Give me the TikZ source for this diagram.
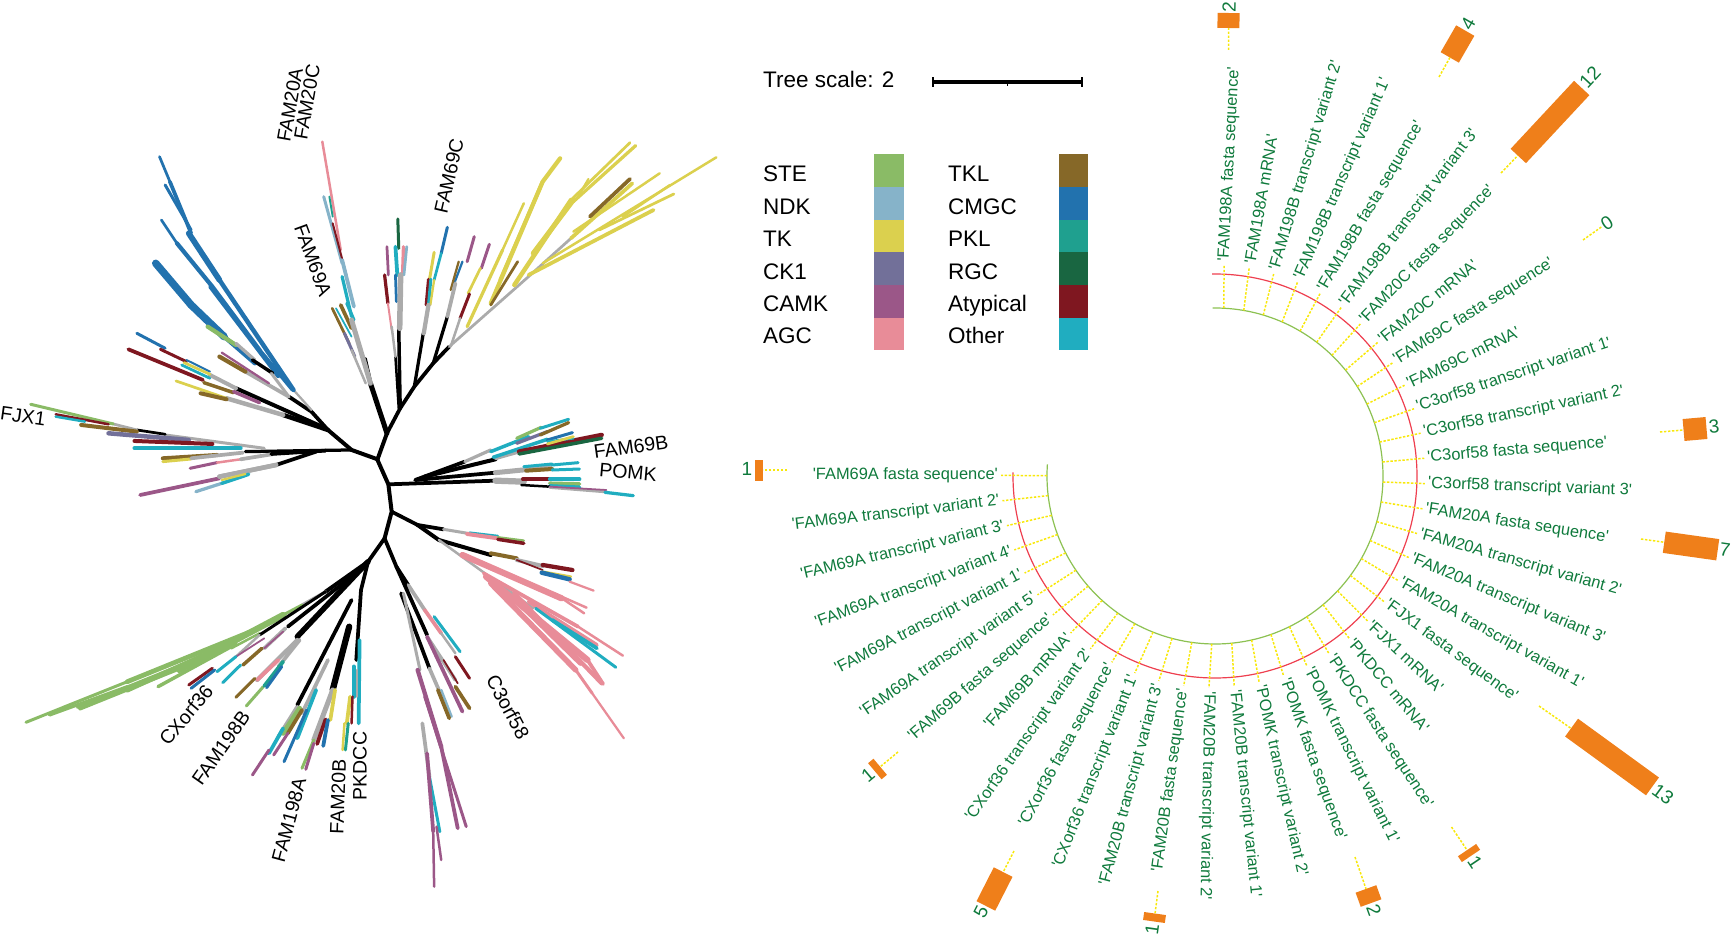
\documentclass[tikz,border=0pt]{standalone}
\usepackage{fontspec}
\setmainfont{Liberation Sans}[Ligatures=TeXOff]
\definecolor{ste}{HTML}{8ABB66}
\definecolor{ndk}{HTML}{86B3C9}
\definecolor{tk}{HTML}{DBD04E}
\definecolor{ck}{HTML}{727099}
\definecolor{camk}{HTML}{9B5788}
\definecolor{agc}{HTML}{E88C98}
\definecolor{tkl}{HTML}{866828}
\definecolor{cmgc}{HTML}{2272AE}
\definecolor{pkl}{HTML}{1FA08F}
\definecolor{rgc}{HTML}{196641}
\definecolor{atyp}{HTML}{7F1720}
\definecolor{oth}{HTML}{20ADC0}
\definecolor{gry}{HTML}{ABABAB}
\definecolor{genegreen}{HTML}{0F7A3C}
\definecolor{barorange}{HTML}{EF7F1A}
\definecolor{dotyellow}{HTML}{F8E80A}
\definecolor{ringred}{HTML}{EE3F4F}
\definecolor{ringgreen}{HTML}{8CC152}
\tikzset{
  br/.style={line width=1.25*#1pt,line cap=round},
  br/.default=2.2,
  famlabel/.style={font=\fontsize{19.5}{20}\selectfont,inner sep=0pt},
  legtext/.style={font=\fontsize{22.5}{23}\selectfont,inner sep=0pt,anchor=base west},
  swatch/.style={minimum width=29.4pt,minimum height=32.7pt,inner sep=0pt,outer sep=0pt},
  genelabel/.style={font=\fontsize{16.4}{17}\selectfont,text=genegreen,inner sep=0pt},
  countlabel/.style={font=\fontsize{19}{19}\selectfont,text=genegreen,inner sep=0pt},
  tickline/.style={dotyellow,line width=1.5pt,dash pattern=on 2.4pt off 1.6pt},
  barbox/.style={fill=barorange,inner sep=0pt,outer sep=0pt},
}
\newcommand{\countbar}[8]{% name, x, y, angle, length, width, stub end, count text pos
  \node[barbox,minimum width=#5pt,minimum height=#6pt,rotate=#4] (bar#1) at (#2,#3) {};
  \coordinate (stub#1) at (#7);
  \draw[tickline] (stub#1) -- (bar#1);
  #8
}
\begin{document}
\begin{tikzpicture}[x=1pt,y=-1pt]
\useasboundingbox (0,0) rectangle (1732,934);
% unrooted tree, upper half
\begin{scope}[x=0.4719pt,y=-0.3333pt]
\draw[br=3.2] (800,1378) -- (820,1300);
\draw[br=4] (820,1300) -- (785,1150);
\draw[br=1.8] (787,1150) -- (775,1075);
\draw[br=3] (820,1300) -- (848,1225);
\draw[br=2.8] (848,1225) -- (845,985);
\draw[br=2] (845,1225) -- (838,1070);
\draw[br=3] (848,1225) -- (878,1160);
\draw[br=2.6] (878,1160) -- (897,1000);
\draw[br=3] (878,1160) -- (918,1090);
\draw[br=2.6] (918,1090) -- (948,950);
\draw[br=3] (918,1090) -- (952,1040);
% FAM69A
\draw[br=2,agc] (683,425) -- (722,750);
\draw[br=2.4,ndk] (686,590) -- (725,790);
\draw[br=1.5,pkl] (698,590) -- (705,650);
\draw[br=1.6,atyp] (705,670) -- (735,830);
\draw[br=3,ndk] (725,780) -- (750,920);
\draw[br=2.6,oth] (725,830) -- (745,950);
\draw[br=2.6,oth] (735,910) -- (750,960);
\draw[br=3,tkl] (722,915) -- (745,985);
\draw[br=2.2,tkl] (704,925) -- (740,1030);
\draw[br=1.4,oth] (712,925) -- (745,1010);
\draw[br=2.4,ck] (730,1000) -- (752,1070);
\draw[br=4,gry] (745,960) -- (785,1150);
\draw[br=2,gry] (745,1050) -- (775,1150);
% FAM69C, columns
\draw[br=2.4,rgc] (843,657) -- (845,745);
\draw[br=2.2,camk] (820,740) -- (823,825);
\draw[br=3,oth] (838,740) -- (842,825);
\draw[br=2.6,agc] (855,740) -- (853,825);
\draw[br=2.2,ndk] (862,740) -- (856,825);
\draw[br=2.6,atyp] (815,825) -- (822,910);
\draw[br=2.2,cmgc] (838,825) -- (840,905);
\draw[br=1.6,agc] (822,910) -- (830,990);
\draw[br=4.4,gry] (849,825) -- (847,985);
\draw[br=2,gry] (830,980) -- (838,1070);
\draw[br=2.4,tk] (920,757) -- (910,840);
\draw[br=2.4,cmgc] (948,682) -- (935,760);
\draw[br=2.2,oth] (935,760) -- (920,840);
\draw[br=2.4,atyp] (908,838) -- (903,915);
\draw[br=2.4,oth] (913,838) -- (908,915);
\draw[br=1.8,tk] (920,840) -- (912,915);
\draw[br=3.4,gry] (908,915) -- (898,1000);
\draw[br=2.4,camk] (1005,710) -- (990,785);
\draw[br=1.8,cmgc] (980,785) -- (960,860);
\draw[br=1.8,tkl] (972,785) -- (955,870);
\draw[br=3,gry] (965,850) -- (948,950);
\draw[br=2.4,camk] (1037,733) -- (1020,805);
\draw[br=2.2,tk] (1018,805) -- (992,880);
\draw[br=2.4,atyp] (995,882) -- (975,955);
\draw[br=2,gry] (975,955) -- (955,1040);
% TK fan
\draw[br=2.2,gry] (952,1040) -- (1120,830) -- (1210,715);
\draw[br=2,tk] (1065,750) -- (1110,610);
\draw[br=2.6,tk] (990,980) -- (1065,750);
\draw[br=3.4,tk] (1040,910) -- (1150,545) -- (1187,475);
\draw[br=3,tk] (1060,840) -- (1150,545);
\draw[br=2.2,tkl] (1040,915) -- (1097,785);
\draw[br=3.6,tk] (1090,855) -- (1210,600);
\draw[br=4,tk] (1130,760) -- (1215,600);
\draw[br=2.2,tk] (1210,600) -- (1335,428);
\draw[br=1.8,tk] (1225,590) -- (1247,537);
\draw[br=2.6,tk] (1215,605) -- (1347,437);
\draw[br=3,tk] (1210,715) -- (1340,550);
\draw[br=3,tkl] (1250,650) -- (1335,537);
\draw[br=2,tk] (1215,695) -- (1398,520);
\draw[br=3,tk] (1120,825) -- (1385,630);
\draw[br=2.2,tk] (1270,690) -- (1428,582);
\draw[br=2,tk] (1150,790) -- (1518,472);
\draw[br=2,tk] (1320,650) -- (1420,555);
% left limb
\draw[br=3.2] (800,1378) -- (745,1350);
\draw[br=3.2] (745,1350) -- (695,1290);
\draw[br=3] (695,1290) -- (660,1235);
\draw[br=3.6] (695,1290) -- (600,1245);
\draw[br=3.2] (690,1285) -- (500,1165);
\draw[br=3] (660,1235) -- (612,1190);
% CMGC block
\draw[br=1.8,gry] (660,1230) -- (622,1170);
\draw[br=3.6,cmgc] (622,1170) -- (465,840);
\draw[br=4.6,cmgc] (465,840) -- (400,700);
\draw[br=3,cmgc] (405,700) -- (360,545);
\draw[br=2.2,cmgc] (360,545) -- (338,470);
\draw[br=2.4,cmgc] (350,555) -- (405,690);
\draw[br=2.2,cmgc] (342,660) -- (375,730);
\draw[br=3.4,cmgc] (375,730) -- (450,860) -- (550,1050);
\draw[br=3,cmgc] (445,860) -- (590,1130);
\draw[br=3,cmgc] (550,1050) -- (620,1170);
\draw[br=6,cmgc] (330,790) -- (405,915);
\draw[br=6,cmgc] (405,915) -- (475,1010);
\draw[br=3.4,cmgc] (475,1010) -- (540,1090);
\draw[br=3.4,ste] (440,980) -- (500,1035);
\draw[br=2.6,gry] (500,1030) -- (540,1080);
\draw[br=2.8] (535,1080) -- (578,1120);
\draw[br=2.4,gry] (575,1120) -- (612,1190);
% small fans
\draw[br=3,gry] (612,1190) -- (520,1115);
\draw[br=3.4,tkl] (465,1070) -- (520,1115);
\draw[br=1.8,camk] (470,1058) -- (570,1150);
\draw[br=3.2,gry] (500,1165) -- (445,1125);
\draw[br=2.8,tkl] (432,1148) -- (495,1178);
\draw[br=2.8,camk] (495,1175) -- (550,1208);
\draw[br=3,atyp] (272,1048) -- (430,1140);
\draw[br=2.4,cmgc] (290,1000) -- (350,1045);
\draw[br=2.4,atyp] (340,1048) -- (395,1085);
\draw[br=1.6,cmgc] (395,1080) -- (445,1115);
\draw[br=2.2,oth] (385,1095) -- (445,1135);
\draw[br=2.2,tk] (390,1088) -- (445,1123);
\draw[br=3.6,gry] (600,1245) -- (480,1195);
\draw[br=2.2,tk] (373,1143) -- (480,1195);
\draw[br=3.2,tkl] (425,1180) -- (480,1198);
% FJX1 side
\draw[br=2.6] (745,1350) -- (520,1355);
\draw[br=2.4,gry] (560,1345) -- (350,1305);
\draw[br=2.2] (290,1290) -- (350,1303);
\draw[br=2.2,gry] (240,1272) -- (290,1290);
\draw[br=2.4,ste] (65,1213) -- (240,1272);
\draw[br=2,atyp] (118,1243) -- (230,1273);
\draw[br=2,oth] (118,1250) -- (180,1265);
\draw[br=3.2,tkl] (172,1275) -- (290,1295);
\draw[br=3.6,ck] (230,1300) -- (400,1320);
\draw[br=3.2,atyp] (285,1323) -- (450,1332);
\draw[br=3.2,oth] (285,1345) -- (510,1345);
\draw[br=3.2,tkl] (345,1375) -- (460,1365);
\draw[br=2.4,tk] (345,1385) -- (405,1377);
\draw[br=3,gry] (405,1375) -- (515,1358);
\draw[br=2.4,camk] (403,1405) -- (460,1388);
\draw[br=2,agc] (460,1388) -- (510,1378);
\draw[br=3,gry] (510,1378) -- (580,1362);
\draw[br=3] (575,1362) -- (690,1352);
\draw[br=3] (585,1395) -- (670,1355);
\draw[br=3.6,gry] (585,1395) -- (465,1430);
% FAM69B
\draw[br=3] (880,1440) -- (985,1385);
\draw[br=2.6,gry] (985,1385) -- (1040,1350);
\draw[br=2.8,oth] (1040,1355) -- (1120,1310);
\draw[br=2.6,ste] (1095,1315) -- (1147,1282);
\draw[br=2.6,ck] (1095,1330) -- (1160,1295);
\draw[br=2.4,oth] (1145,1285) -- (1205,1258);
\draw[br=2.6,tkl] (1145,1305) -- (1205,1268);
\draw[br=3.2] (900,1430) -- (1050,1378);
\draw[br=3,gry] (1050,1375) -- (1100,1355);
\draw[br=2.8,oth] (1045,1372) -- (1160,1318);
\draw[br=3.6,atyp] (1100,1355) -- (1275,1305);
\draw[br=2.8,rgc] (1100,1362) -- (1275,1315);
\draw[br=2.4,cmgc] (1160,1320) -- (1213,1298);
\draw[br=2,oth] (1160,1325) -- (1215,1315);
\draw[br=2.2,tk] (1160,1332) -- (1215,1310);
\end{scope}
% unrooted tree, lower half
\begin{scope}[x=0.4719pt,y=-0.3333pt,yshift=-460pt]
\draw[br=3.2] (800,0) -- (823,73) -- (830,155) -- (815,235);
\draw[br=3] (823,73) -- (1050,62);
\draw[br=3] (880,60) -- (1050,38);
\draw[br=4,gry] (1050,38) -- (1165,22);
\draw[br=2.4,oth] (1110,20) -- (1170,12);
\draw[br=2.4,oth] (1170,15) -- (1225,8);
\draw[br=3.2,tkl] (1115,32) -- (1170,27);
\draw[br=2.4,oth] (1170,30) -- (1228,27);
\draw[br=5,gry] (1050,62) -- (1110,65);
\draw[br=3,atyp] (1108,58) -- (1165,58);
\draw[br=3,oth] (1165,58) -- (1228,58);
\draw[br=3,ste] (1165,70) -- (1228,72);
\draw[br=3,oth] (1165,78) -- (1228,82);
\draw[br=2] (1105,75) -- (1165,80);
\draw[br=2.4,gry] (1165,82) -- (1280,95);
\draw[br=1.4,camk] (1165,80) -- (1285,90);
\draw[br=2.6,oth] (1282,97) -- (1342,107);
\draw[br=3,camk] (297,105) -- (465,55);
\draw[br=3.6,gry] (465,50) -- (585,15);
\draw[br=2.6,ndk] (415,95) -- (470,70);
\draw[br=2.8,oth] (470,70) -- (527,43);
\draw[br=1.8,tk] (470,60) -- (520,42);
% AGC limb
\draw[br=3] (830,155) -- (885,195) -- (940,208);
\draw[br=2.4,gry] (940,208) -- (1000,222);
\draw[br=2,oth] (995,218) -- (1055,228);
\draw[br=3.2,agc] (990,222) -- (1055,235);
\draw[br=2,ste] (1055,232) -- (1110,242);
\draw[br=2.8,atyp] (1055,238) -- (1110,250);
\draw[br=3.2] (885,195) -- (930,240) -- (1040,285);
\draw[br=3.2,tkl] (1040,280) -- (1095,295);
\draw[br=3.2,gry] (1095,300) -- (1150,318);
\draw[br=1.4,atyp] (1095,300) -- (1150,330);
\draw[br=3.4,atyp] (1150,315) -- (1213,330);
\draw[br=2,tk] (1150,335) -- (1210,350);
\draw[br=3.6,cmgc] (1148,338) -- (1207,358);
\draw[br=1.8,agc] (1207,365) -- (1258,392);
\draw[br=2,gry] (930,240) -- (1130,445);
\draw[br=5,agc] (980,285) -- (1190,415);
\draw[br=2,agc] (1190,410) -- (1243,443);
\draw[br=2,agc] (1175,400) -- (1238,460);
\draw[br=3,agc] (1025,340) -- (1225,500);
\draw[br=2,agc] (1225,500) -- (1320,587);
\draw[br=3,agc] (1120,425) -- (1265,555);
\draw[br=2.4,oth] (1135,445) -- (1305,622);
\draw[br=3,oth] (1170,480) -- (1265,565);
\draw[br=5,agc] (1030,350) -- (1245,600);
\draw[br=3,agc] (1245,600) -- (1278,672);
\draw[br=4.4,agc] (1040,370) -- (1220,630);
\draw[br=4,agc] (1100,430) -- (1230,610);
\draw[br=3.4,agc] (1090,400) -- (1275,670);
\draw[br=2.4,agc] (1220,630) -- (1255,700);
\draw[br=1.8,agc] (1255,700) -- (1322,835);
% STE limb
\draw[br=3] (815,235) -- (780,305);
\draw[br=3.2] (780,305) -- (690,395);
\draw[br=2.4,gry] (690,395) -- (640,435);
\draw[br=2.4,ste] (640,435) -- (540,510);
\draw[br=5,ste] (600,465) -- (380,630);
\draw[br=3.8,ste] (540,510) -- (270,665);
\draw[br=2.4,ste] (270,665) -- (55,787);
\draw[br=3,ste] (500,550) -- (165,742);
\draw[br=3.4,ste] (380,625) -- (170,745);
\draw[br=4,ste] (480,555) -- (270,690);
\draw[br=2.6,ste] (270,680) -- (105,765);
\draw[br=2.8,ste] (490,560) -- (335,680);
\draw[br=2,ste] (550,520) -- (490,565);
\draw[br=2.4] (690,395) -- (550,525);
\draw[br=2,gry] (550,525) -- (500,590);
\draw[br=1.4,camk] (560,535) -- (500,590);
\draw[br=2.4,oth] (500,590) -- (460,635);
\draw[br=2.4,atyp] (450,625) -- (400,675);
\draw[br=2.4,cmgc] (455,630) -- (405,685);
\draw[br=3] (745,350) -- (610,500);
\draw[br=3,gry] (605,505) -- (560,565);
\draw[br=1.4,camk] (600,515) -- (560,565);
\draw[br=2.8,tkl] (555,565) -- (515,615);
\draw[br=2.4,oth] (510,615) -- (472,668);
\draw[br=4.4] (780,305) -- (630,530);
\draw[br=3.4,gry] (630,540) -- (545,660);
\draw[br=3,gry] (635,540) -- (590,620);
\draw[br=3,agc] (590,600) -- (545,660);
\draw[br=2.4,tkl] (540,655) -- (500,712);
\draw[br=2.4,ste] (558,680) -- (522,738);
\draw[br=3,pkl] (600,605) -- (560,678);
\draw[br=2.4,cmgc] (597,620) -- (565,683);
% FAM198A, FAM20B, PKDCC
\draw[br=3] (780,305) -- (765,390);
\draw[br=3] (745,420) -- (630,735);
\draw[br=3,gry] (695,600) -- (640,760);
\draw[br=3,gry] (630,740) -- (590,830);
\draw[br=4,ste] (635,745) -- (600,820);
\draw[br=3,tkl] (640,750) -- (610,820);
\draw[br=3,oth] (670,690) -- (630,835);
\draw[br=2.4,cmgc] (650,750) -- (602,905);
\draw[br=3,oth] (600,805) -- (570,880);
\draw[br=2.4,camk] (610,820) -- (580,885);
\draw[br=2.4,camk] (570,870) -- (535,945);
\draw[br=5] (740,500) -- (705,690);
\draw[br=4,gry] (705,690) -- (665,840);
\draw[br=3,tk] (710,690) -- (700,780);
\draw[br=2.4,ste] (665,840) -- (640,925);
\draw[br=2.4,camk] (665,850) -- (648,928);
\draw[br=3,atyp] (690,778) -- (672,852);
\draw[br=3,cmgc] (695,780) -- (685,858);
\draw[br=3] (765,390) -- (755,600);
\draw[br=3,oth] (762,540) -- (760,790);
\draw[br=3.4,oth] (750,620) -- (750,710);
\draw[br=2,gry] (757,630) -- (757,710);
\draw[br=3,tk] (742,710) -- (735,790);
\draw[br=2,atyp] (747,710) -- (745,790);
\draw[br=2.4,pkl] (738,790) -- (732,870);
\draw[br=2,tk] (730,790) -- (726,870);
% C3orf58
\draw[br=3] (815,235) -- (840,320) -- (865,375);
\draw[br=3,gry] (865,375) -- (900,450);
\draw[br=3,agc] (900,450) -- (935,520);
\draw[br=2.4,oth] (920,470) -- (975,575);
\draw[br=2,gry] (935,520) -- (965,580);
\draw[br=2.4,atyp] (965,590) -- (995,655);
\draw[br=3] (840,320) -- (905,525);
\draw[br=3,gry] (905,530) -- (965,660);
\draw[br=3,camk] (905,530) -- (980,755);
\draw[br=1.4,atyp] (940,600) -- (970,670);
\draw[br=3,tkl] (965,680) -- (995,745);
\draw[br=3] (850,400) -- (910,625);
\draw[br=3,gry] (910,625) -- (930,690);
\draw[br=2,ndk] (935,690) -- (957,770);
\draw[br=3,tkl] (928,690) -- (952,775);
\draw[br=2.4,gry] (855,400) -- (890,630);
\draw[br=3.4,camk] (885,630) -- (935,860);
\draw[br=3,camk] (935,860) -- (970,1105);
\draw[br=2.4,camk] (900,710) -- (988,1100);
\draw[br=3,gry] (895,790) -- (910,950);
\draw[br=2.4,oth] (910,950) -- (932,1115);
\draw[br=3,camk] (905,880) -- (918,1115);
\draw[br=2,camk] (918,1115) -- (920,1280);
\draw[br=2,camk] (925,1100) -- (935,1200);
\end{scope}
% family names
\node[famlabel,rotate=80] (nmFAMa) at (290,105) {FAM20A};
\node[famlabel,rotate=80] (nmFAMc) at (307,102) {FAM20C};
\node[famlabel,rotate=-70] (nmSIXa) at (313,260) {FAM69A};
\node[famlabel,rotate=77] (nmSIXc) at (449,176) {FAM69C};
\node[famlabel,rotate=-8] (nmFJX) at (23,416) {FJX1};
\node[famlabel,rotate=8] (nmSIXb) at (631,447) {FAM69B};
\node[famlabel,rotate=-5] (nmPOMK) at (628,472) {POMK};
\node[famlabel,rotate=-62] (nmCTHREE) at (508,707) {C3orf58};
\node[famlabel,rotate=90] (nmPKDCC) at (360,766) {PKDCC};
\node[famlabel,rotate=88] (nmFAMb) at (338,797) {FAM20B};
\node[famlabel,rotate=75] (nmNINEa) at (289,820) {FAM198A};
\node[famlabel,rotate=55] (nmNINEb) at (221,748) {FAM198B};
\node[famlabel,rotate=50] (nmCX) at (186,715) {CXorf36};
% scale bar
\node[legtext] (scaletext) at (763,87.7) {Tree scale: 2};
\coordinate (sb1) at (933,82);
\coordinate (sb2) at (1082,82);
\draw[line width=3pt] (sb1) -- (sb2);
\draw[line width=2.6pt] (sb1) +(0,-4.5) -- +(0,4.5);
\draw[line width=2.6pt] (sb2) +(0,-4.5) -- +(0,4.5);
\draw[line width=1.5pt] (1007.5,82) -- (1007.5,85.5);
% legend
\foreach \fam/\shade [count=\k] in {STE/ste,NDK/ndk,TK/tk,CK1/ck,CAMK/camk,AGC/agc}{
  \node[swatch,fill=\shade] (swa\k) at (889,{154.5+32.65*(\k-0.5)}) {};
  \node[legtext] (txa\k) at (763,{149.5+32.4*\k}) {\fam};
}
\foreach \fam/\shade [count=\k] in {TKL/tkl,CMGC/cmgc,PKL/pkl,RGC/rgc,Atypical/atyp,Other/oth}{
  \node[swatch,fill=\shade] (swb\k) at (1073.5,{154.5+32.65*(\k-0.5)}) {};
  \node[legtext] (txb\k) at (948,{149.5+32.4*\k}) {\fam};
}
% circular plot
\coordinate (hub) at (1215,476);
\coordinate (labhub) at (1213,476);
\draw[ringred,line width=1.2pt] ([shift={(90.8:202pt)}]hub) arc[start angle=90.8,end angle=-181,radius=202pt];
\draw[ringgreen,line width=1.2pt] ([shift={(90.8:168pt)}]hub) arc[start angle=90.8,end angle=-184,radius=168pt];
\foreach \gene [count=\i] in {
  'FAM198A fasta sequence','FAM198A mRNA','FAM198B transcript variant 2','FAM198B transcript variant 1',
  'FAM198B fasta sequence','FAM198B transcript variant 3','FAM20C fasta sequence','FAM20C mRNA',
  'FAM69C fasta sequence','FAM69C mRNA','C3orf58 transcript variant 1','C3orf58 transcript variant 2',
  'C3orf58 fasta sequence','C3orf58 transcript variant 3','FAM20A fasta sequence','FAM20A transcript variant 2',
  'FAM20A transcript variant 3','FAM20A transcript variant 1','FJX1 fasta sequence','FJX1 mRNA',
  'PKDCC mRNA','PKDCC fasta sequence','POMK transcript variant 1','POMK fasta sequence',
  'POMK transcript variant 2','FAM20B transcript variant 1','FAM20B transcript variant 2','FAM20B fasta sequence',
  'FAM20B transcript variant 3','CXorf36 transcript variant 1','CXorf36 fasta sequence','CXorf36 transcript variant 2',
  'FAM69B mRNA','FAM69B fasta sequence','FAM69A transcript variant 5','FAM69A transcript variant 1',
  'FAM69A transcript variant 4','FAM69A transcript variant 3','FAM69A transcript variant 2','FAM69A fasta sequence'}{
  \pgfmathsetmacro\ang{87-6.85*(\i-1)}
  \pgfmathsetmacro\flip{\ang+180}
  \coordinate (in\i) at ([shift={(\ang:168pt)}]hub);
  \coordinate (out\i) at ([shift={(\ang:212pt)}]labhub);
  \draw[tickline] (in\i) -- (out\i);
  \ifnum\i<28
    \node[genelabel,anchor=west,rotate=\ang] (lab\i) at ([shift={(\ang:215pt)}]labhub) {\gene};
  \else
    \node[genelabel,anchor=east,rotate=\flip] (lab\i) at ([shift={(\ang:215pt)}]labhub) {\gene};
  \fi
}
% count bars
\countbar{A}{1228.5}{20.5}{89}{15}{22}{1228.5,50}{\node[countlabel,rotate=89] (cntA) at (1229,7) {2};}
\countbar{B}{1457.5}{44}{60}{31}{21}{1439,77}{\node[countlabel,rotate=60] (cntB) at (1468,24) {4};}
\countbar{C}{1550}{122}{47}{93}{21}{1501,173}{\node[countlabel,rotate=47] (cntC) at (1590,77) {12};}
\coordinate (stubD) at (1583,240);
\node[countlabel,rotate=33] (cntD) at (1607,223) {0};
\draw[tickline] (stubD) -- (cntD);
\countbar{E}{1695}{429}{5}{23}{22}{1660,432}{\node[countlabel,rotate=5] (cntE) at (1714,427) {3};}
\countbar{F}{1691}{546}{-8}{54}{21.5}{1641,539}{\node[countlabel,rotate=-8] (cntF) at (1725,550) {7};}
\countbar{G}{1612}{757}{-36}{100}{22}{1539,706}{\node[countlabel,rotate=-36] (cntG) at (1663,794) {13};}
\countbar{H}{1469}{853}{-56}{7}{22}{1451.5,827}{\node[countlabel,rotate=-56] (cntH) at (1475,862) {1};}
\countbar{I}{1368.5}{896}{-70}{15}{22}{1355,857}{\node[countlabel,rotate=-70] (cntI) at (1374,910) {2};}
\countbar{J}{1154.5}{917.5}{-98}{8}{22}{1158,891}{\node[countlabel,rotate=82] (cntJ) at (1152,929) {1};}
\countbar{K}{994.5}{889}{-117}{38}{21}{1014,851}{\node[countlabel,rotate=63] (cntK) at (981,912) {5};}
\countbar{L}{877.5}{769}{-140}{7}{21}{898,752}{\node[countlabel,rotate=40] (cntL) at (868,775) {1};}
\countbar{M}{759}{470}{180}{8}{21}{787,470}{\node[countlabel] (cntM) at (747,469) {1};}
\end{tikzpicture}
\end{document}
